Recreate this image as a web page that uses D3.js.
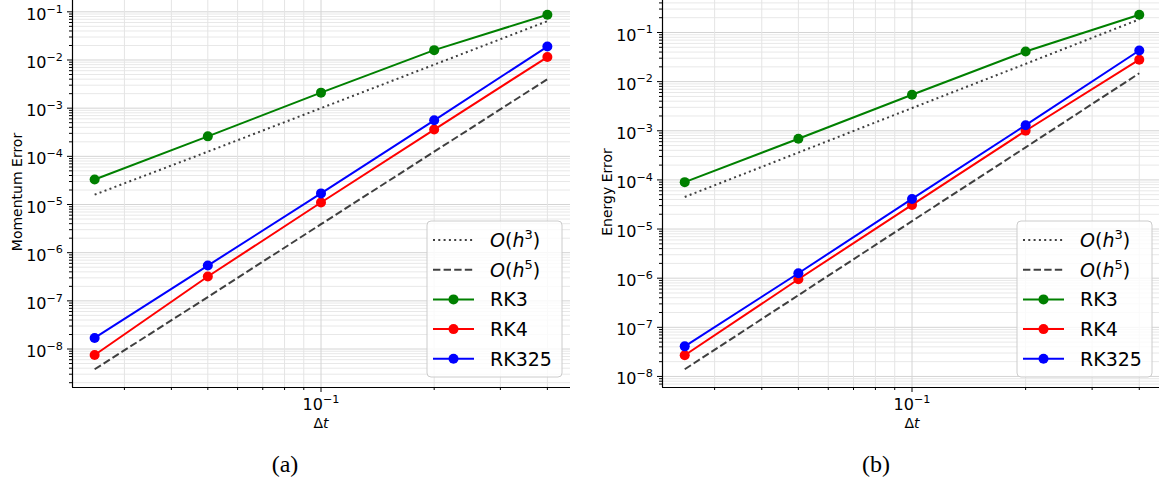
<!DOCTYPE html>
<html>
  <head>
    <meta charset="utf-8">
    <title>Momentum and Energy Error</title>
    <script src="https://d3js.org/d3.v7.min.js"></script>
    <style>
      body { margin: 0; background: #fff; }
      svg { font-family: "DejaVu Sans", sans-serif; }
      .tick-label { font-size: 16px; fill: #000; }
      .axis-label { font-size: 14px; fill: #000; }
      .legend text { font-size: 19px; fill: #000; }
      .caption { font-family: "Liberation Serif", "DejaVu Serif", serif; font-size: 24px; }
    </style>
  </head>
  <body>
    <script>
      // data
      var dt = [0.025, 0.05, 0.1, 0.2, 0.4];

      var momRK3   = [3.3e-5, 2.6e-4, 2.1e-3, 1.6e-2, 8.7e-2];
      var momRK4   = [7.5e-9, 3.2e-7, 1.1e-5, 3.6e-4, 1.15e-2];
      var momRK325 = [1.7e-8, 5.4e-7, 1.7e-5, 5.6e-4, 1.9e-2];
      var momH3    = [1.6e-5, 1.25e-4, 1.0e-3, 8.0e-3, 6.4e-2];
      var momH5    = [3.8e-9, 1.2e-7, 3.9e-6, 1.25e-4, 4.0e-3];

      var engRK3   = [9.0e-5, 6.9e-4, 5.4e-3, 4.1e-2, 2.3e-1];
      var engRK4   = [2.7e-8, 9.5e-7, 3.1e-5, 1.0e-3, 2.8e-2];
      var engRK325 = [4.1e-8, 1.26e-6, 4.1e-5, 1.3e-3, 4.3e-2];
      var engH3    = [4.5e-5, 3.6e-4, 2.9e-3, 2.3e-2, 1.85e-1];
      var engH5    = [1.4e-8, 4.5e-7, 1.45e-5, 4.6e-4, 1.48e-2];

      var yTickExps = [-8, -7, -6, -5, -4, -3, -2, -1];
      var xTickExps = [-1];
      var seriesNames = ["RK3", "RK4", "RK325"];
      var seriesColors = ["green", "red", "blue"];

      var W = 1159, H = 482;
      var svg = d3.select("body").append("svg")
                  .attr("width", W)
                  .attr("height", H);

      // log-axis limits with matplotlib's 5% margin
      function logLimits(arr) {
        var lo = Math.log10(d3.min(arr)), hi = Math.log10(d3.max(arr));
        var m = (hi - lo) * 0.05;
        return [Math.pow(10, lo - m), Math.pow(10, hi + m)];
      }

      function minorValues(domain) {
        var out = [];
        var e0 = Math.floor(Math.log10(domain[0])), e1 = Math.ceil(Math.log10(domain[1]));
        for (var e = e0; e <= e1; e++) {
          for (var k = 1; k <= 9; k++) {
            var v = k * Math.pow(10, e);
            if (v >= domain[0] && v <= domain[1]) out.push({ v: v, major: k === 1 });
          }
        }
        return out;
      }

      function powLabel(sel, exp, fs) {
        sel.append("tspan").text("10");
        sel.append("tspan").attr("dy", -fs * 0.45).style("font-size", (fs * 0.7) + "px")
           .text("\u2212" + Math.abs(exp));
      }

      function drawPanel(p) {
        var g = svg.append("g");
        var x = d3.scaleLog().domain(logLimits(dt)).range([p.left, p.right]);
        var allY = [].concat(p.rk[0], p.rk[1], p.rk[2], p.h3, p.h5);
        var y = d3.scaleLog().domain(logLimits(allY)).range([p.bottom, p.top]);

        var xs = minorValues(x.domain()), ys = minorValues(y.domain());

        // grid, major and minor
        g.selectAll(".hgrid").data(ys).enter().append("line")
         .attr("x1", p.left).attr("x2", p.right)
         .attr("y1", function(d) { return y(d.v); }).attr("y2", function(d) { return y(d.v); })
         .attr("stroke", function(d) { return d.major ? "#d4d4d4" : "#e8e8e8"; })
         .attr("stroke-width", 1);
        g.selectAll(".vgrid").data(xs).enter().append("line")
         .attr("y1", p.top).attr("y2", p.bottom)
         .attr("x1", function(d) { return x(d.v); }).attr("x2", function(d) { return x(d.v); })
         .attr("stroke", function(d) { return d.major ? "#d4d4d4" : "#e4e4e4"; })
         .attr("stroke-width", 1);

        var line = d3.line()
                     .x(function(d, i) { return x(dt[i]); })
                     .y(function(d) { return y(d); });

        // reference slopes
        g.append("path").attr("d", line(p.h3)).attr("fill", "none")
         .attr("stroke", "#000").attr("stroke-opacity", 0.75).attr("stroke-width", 2)
         .attr("stroke-dasharray", "2,3.3");
        g.append("path").attr("d", line(p.h5)).attr("fill", "none")
         .attr("stroke", "#000").attr("stroke-opacity", 0.75).attr("stroke-width", 2)
         .attr("stroke-dasharray", "7.4,3.2");

        p.rk.forEach(function(vals, s) {
          g.append("path").attr("d", line(vals)).attr("fill", "none")
           .attr("stroke", seriesColors[s]).attr("stroke-width", 2);
          g.selectAll(".pt" + s).data(vals).enter().append("circle")
           .attr("cx", function(d, i) { return x(dt[i]); })
           .attr("cy", function(d) { return y(d); })
           .attr("r", 5)
           .attr("fill", seriesColors[s]);
        });

        // spines
        g.append("line").attr("x1", p.left + 0.5).attr("x2", p.left + 0.5)
         .attr("y1", p.top).attr("y2", p.bottom).attr("stroke", "#000").attr("stroke-width", 1.2);
        g.append("line").attr("x1", p.left).attr("x2", p.right)
         .attr("y1", p.bottom + 0.5).attr("y2", p.bottom + 0.5).attr("stroke", "#000").attr("stroke-width", 1.2);

        // ticks
        g.selectAll(".yt").data(ys).enter().append("line")
         .attr("x1", p.left).attr("x2", function(d) { return p.left - (d.major ? 5 : 3); })
         .attr("y1", function(d) { return y(d.v); }).attr("y2", function(d) { return y(d.v); })
         .attr("stroke", "#000").attr("stroke-width", 1);
        g.selectAll(".xt").data(xs).enter().append("line")
         .attr("y1", p.bottom).attr("y2", function(d) { return p.bottom + (d.major ? 5 : 3); })
         .attr("x1", function(d) { return x(d.v); }).attr("x2", function(d) { return x(d.v); })
         .attr("stroke", "#000").attr("stroke-width", 1);

        yTickExps.forEach(function(e) {
          var t = g.append("text").attr("class", "tick-label")
                   .attr("x", p.left - 9).attr("y", y(Math.pow(10, e)) + 8)
                   .attr("text-anchor", "end");
          powLabel(t, e, 16);
        });
        xTickExps.forEach(function(e) {
          var t = g.append("text").attr("class", "tick-label")
                   .attr("x", x(Math.pow(10, e))).attr("y", p.bottom + 23)
                   .attr("text-anchor", "middle");
          powLabel(t, e, 16);
        });

        // axis labels
        var xl = g.append("text").attr("class", "axis-label")
                  .attr("x", (p.left + p.right) / 2).attr("y", p.bottom + 41)
                  .attr("text-anchor", "middle");
        xl.append("tspan").text("\u0394");
        xl.append("tspan").style("font-style", "italic").text("t");
        g.append("text").attr("class", "axis-label")
         .attr("transform", "translate(" + p.ylabelX + "," + ((p.top + p.bottom) / 2) + ") rotate(-90)")
         .attr("text-anchor", "middle")
         .text(p.ylabel);

        // legend
        var lg = g.append("g").attr("class", "legend")
                  .attr("transform", "translate(" + p.legendX + "," + p.legendY + ")");
        lg.append("rect").attr("width", 135).attr("height", 156).attr("rx", 4)
          .attr("fill", "#fff").attr("fill-opacity", 0.8)
          .attr("stroke", "#cccccc").attr("stroke-width", 1);
        var rowY = function(i) { return 19 + i * 29.7; };
        var refs = [{ dash: "2,3.3", exp: "3" }, { dash: "7.4,3.2", exp: "5" }];
        refs.forEach(function(r, i) {
          lg.append("line").attr("x1", 6).attr("x2", 47).attr("y1", rowY(i)).attr("y2", rowY(i))
            .attr("stroke", "#000").attr("stroke-opacity", 0.75).attr("stroke-width", 2)
            .attr("stroke-dasharray", r.dash);
          var t = lg.append("text").attr("x", 63).attr("y", rowY(i) + 7);
          t.append("tspan").style("font-style", "italic").text("O");
          t.append("tspan").text("(");
          t.append("tspan").style("font-style", "italic").text("h");
          t.append("tspan").attr("dy", -8).style("font-size", "13px").text(r.exp);
          t.append("tspan").attr("dy", 8).text(")");
        });
        seriesNames.forEach(function(name, s) {
          var yy = rowY(s + 2);
          lg.append("line").attr("x1", 6).attr("x2", 47).attr("y1", yy).attr("y2", yy)
            .attr("stroke", seriesColors[s]).attr("stroke-width", 2);
          lg.append("circle").attr("cx", 26.5).attr("cy", yy).attr("r", 5).attr("fill", seriesColors[s]);
          lg.append("text").attr("x", 63).attr("y", yy + 7).text(name);
        });

        svg.append("text").attr("class", "caption")
           .attr("x", p.captionX).attr("y", 472).attr("text-anchor", "middle")
           .text(p.caption);
      }

      drawPanel({
        left: 72, right: 570, top: -3, bottom: 387,
        rk: [momRK3, momRK4, momRK325], h3: momH3, h5: momH5,
        ylabel: "Momentum Error", ylabelX: 22,
        legendX: 427, legendY: 221,
        caption: "(a)", captionX: 285
      });
      drawPanel({
        left: 662, right: 1162, top: -3, bottom: 387,
        rk: [engRK3, engRK4, engRK325], h3: engH3, h5: engH5,
        ylabel: "Energy Error", ylabelX: 612,
        legendX: 1017, legendY: 221,
        caption: "(b)", captionX: 876
      });
    </script>
  </body>
</html>
